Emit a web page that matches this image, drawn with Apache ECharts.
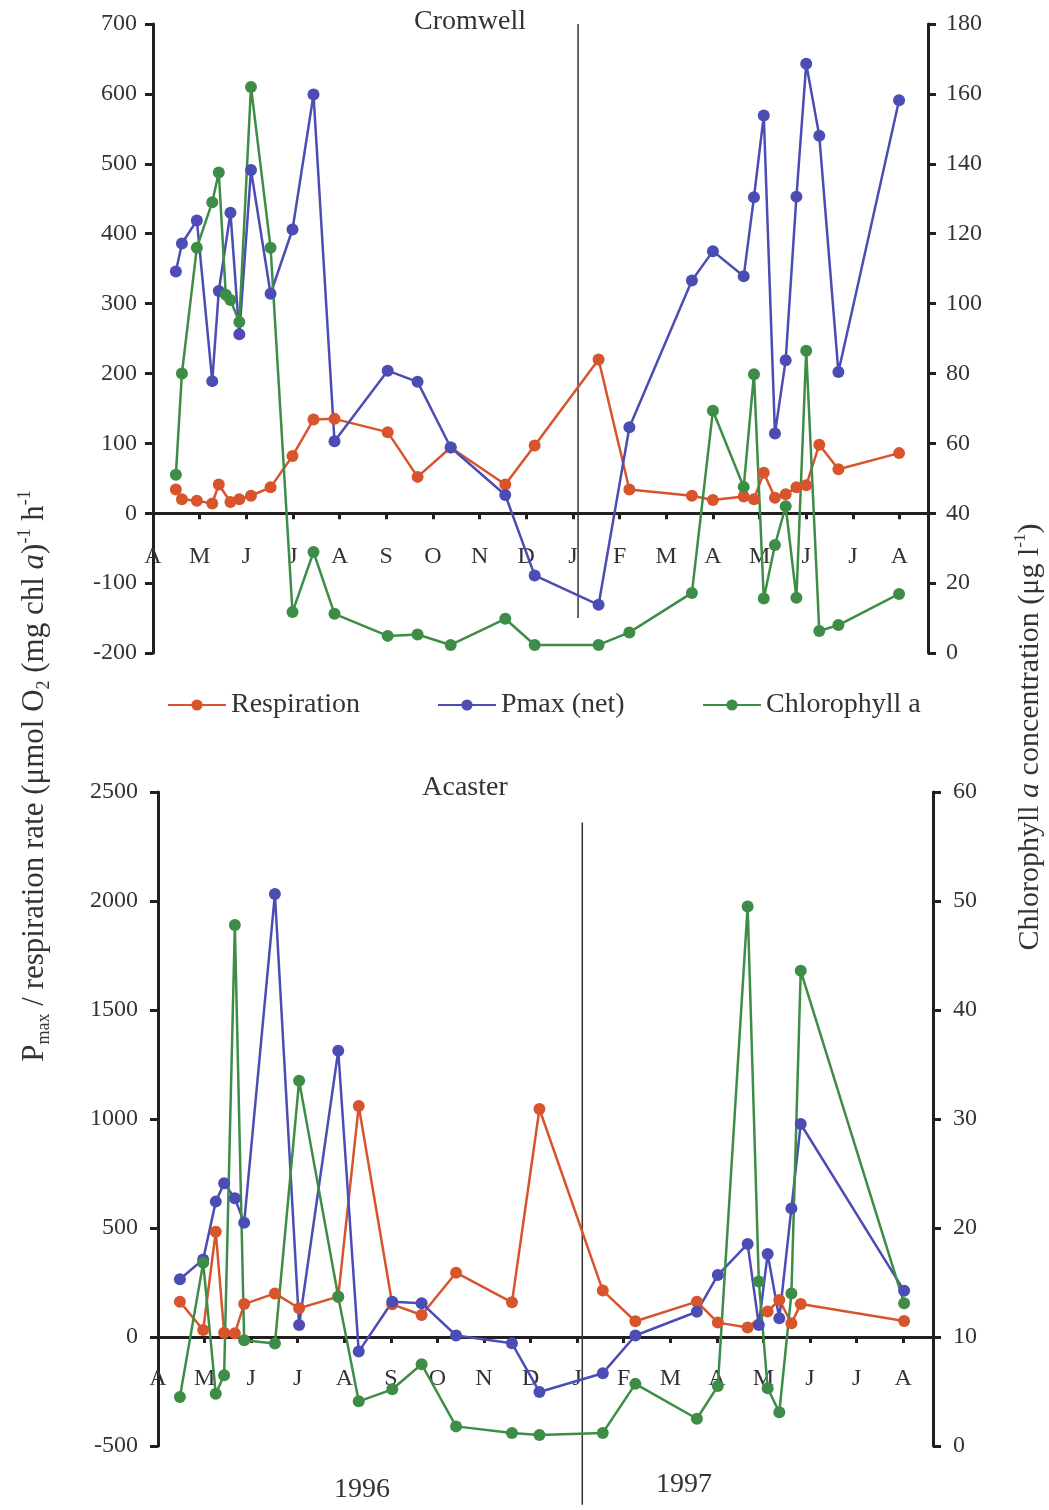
<!DOCTYPE html>
<html><head><meta charset="utf-8">
<script src="https://cdn.jsdelivr.net/npm/echarts@6/dist/echarts.min.js"></script>
<style>html,body{margin:0;padding:0;background:#fff}#c{width:1049px;height:1510px}</style>
</head><body><div id="c"></div>
<script>
const monthLabels = ['A','M','J','J','A','S','O','N','D','J','F','M','A','M','J','J','A'];

// Cromwell (top) — x in months since 1 April 1996
const topDates = [0.49,0.62,0.94,1.27,1.41,1.56,1.66,1.85,2.10,2.52,2.99,3.44,3.89,5.03,5.67,6.38,7.55,8.18,9.55,10.21,11.55,12.0,12.66,12.88,13.09,13.33,13.56,13.79,14.0,14.28,14.69,15.99];
const topResp  = [34,20,18,14,41,null,16,20,25,37,82,134,135,116,52,94,41,97,220,34,25,19,24,20,58,22,27,37,40,98,63,86];
const topPmax  = [346,386,419,189,318,null,430,256,491,314,406,599,103,204,188,94,26,-89,-131,123,333,375,339,452,569,114,219,453,643,540,202,591];
const topChl   = [51,80,116,129,137.5,102.5,101,94.7,162,116,11.7,28.9,11.2,4.9,5.3,2.3,9.8,2.3,2.3,5.9,17.2,69.3,47.5,79.8,15.6,30.9,42,15.8,86.5,6.3,8,16.9];

// Acaster (bottom)
const botDates = [0.47,0.97,1.24,1.42,1.65,1.85,2.51,3.03,3.87,4.31,5.03,5.66,6.40,7.60,8.19,9.55,10.25,11.57,12.02,12.66,12.90,13.09,13.34,13.60,13.80,16.02];
const botResp  = [162,32,483,20,17,151,200,132,185,1060,150,101,295,159,1046,213,72,162,66,44,null,117,170,63,151,73];
const botPmax  = [265,356,621,705,636,524,2032,55,1313,-67,162,155,7,-29,-252,-166,7,116,284,427,55,381,86,590,977,212];
const botChl   = [4.5,16.8,4.8,6.5,47.8,9.7,9.4,33.5,13.7,4.1,5.2,7.5,1.8,1.2,1.0,1.2,5.7,2.5,5.5,49.5,15.1,5.3,3.1,14,43.6,13.1];

const yearSplit = 9.11;

function pairs(d, v){ const out=[]; d.forEach((x,i)=>{ if(v[i]!=null) out.push([x,v[i]]); }); return out; }

const FONT = 'Liberation Serif';
const AX = '#231f20';
const TXT = '#333';
const RED = '#D8542C', BLUE = '#4B4CB4', GREEN = '#3D8D46';
const ticks = monthLabels.map((_,i)=>i);

function xAxis(gi, max, margin){
  return {type:'value', gridIndex:gi, min:0, max:max,
    axisLine:{show:true, onZero:true, lineStyle:{color:AX, width:3}},
    axisTick:{show:true, customValues:ticks, length:6, lineStyle:{color:AX, width:3}},
    axisLabel:{customValues:ticks, formatter:v=>monthLabels[Math.round(v)]||'', margin:margin,
      fontFamily:FONT, fontSize:24, color:TXT},
    splitLine:{show:false}};
}
function yAxis(gi, pos, min, max, interval, margin){
  return {type:'value', gridIndex:gi, position:pos, min, max, interval,
    axisLine:{show:true, onZero:false, lineStyle:{color:AX, width:3}},
    axisTick:{show:true, length:8, lineStyle:{color:AX, width:3}},
    axisLabel:{margin:margin, formatter:v=>String(v), fontFamily:FONT, fontSize:24, color:TXT},
    splitLine:{show:false}};
}
function line(name, xi, yi, data, color){
  return {name, type:'line', xAxisIndex:xi, yAxisIndex:yi, data, symbol:'circle', symbolSize:12,
    itemStyle:{color}, lineStyle:{color, width:2.5}, animation:false};
}

const chart = echarts.init(document.getElementById('c'), null, {renderer:'canvas'});
const legendText = {fontFamily:FONT, fontSize:28, color:TXT};
chart.setOption({
  backgroundColor:'#fff',
  animation:false,
  grid:[
    {left:153, right:121, top:24, height:629},
    {left:158, right:116, top:792, height:654}
  ],
  xAxis:[xAxis(0,16.61,-108), xAxis(1,16.64,-79)],
  yAxis:[
    yAxis(0,'left',-200,700,100,16),
    yAxis(0,'right',0,180,20,18),
    yAxis(1,'left',-500,2500,500,20),
    yAxis(1,'right',0,60,10,20)
  ],
  legend:[
    {data:['Respiration'], left:162, top:686, itemWidth:58, itemHeight:14, textStyle:legendText},
    {data:['Pmax (net)'], left:432, top:686, itemWidth:58, itemHeight:14, textStyle:legendText},
    {data:['Chlorophyll a'], left:697, top:686, itemWidth:58, itemHeight:14, textStyle:legendText}
  ],
  series:[
    line('Respiration',0,0,pairs(topDates,topResp),RED),
    line('Pmax (net)',0,0,pairs(topDates,topPmax),BLUE),
    line('Chlorophyll a',0,1,pairs(topDates,topChl),GREEN),
    line('Respiration',1,2,pairs(botDates,botResp),RED),
    line('Pmax (net)',1,2,pairs(botDates,botPmax),BLUE),
    line('Chlorophyll a',1,3,pairs(botDates,botChl),GREEN)
  ]
});

const t1 = chart.convertToPixel({xAxisIndex:0, yAxisIndex:0}, [yearSplit, 700]);
const t2 = chart.convertToPixel({xAxisIndex:0, yAxisIndex:0}, [yearSplit, -150]);
const b1 = chart.convertToPixel({xAxisIndex:1, yAxisIndex:2}, [yearSplit, 2360]);
const b2 = chart.convertToPixel({xAxisIndex:1, yAxisIndex:2}, [yearSplit, -770]);

const txt = {fontFamily:FONT, fontSize:28, fill:TXT};
function richSet(size){
  const n = {fontFamily:FONT, fontSize:size, lineHeight:size+6, fill:TXT};
  return {
    n:n,
    i:Object.assign({}, n, {fontStyle:'italic'}),
    s:{fontFamily:FONT, fontSize:Math.round(size*0.58), verticalAlign:'bottom', lineHeight:size+6, fill:TXT},
    p:{fontFamily:FONT, fontSize:Math.round(size*0.58), verticalAlign:'top', lineHeight:size+6, fill:TXT}
  };
}
chart.setOption({
  graphic:[
    {type:'line', shape:{x1:t1[0], y1:t1[1], x2:t2[0], y2:t2[1]}, style:{stroke:'#333', lineWidth:1.5}, z:1},
    {type:'line', shape:{x1:b1[0], y1:b1[1], x2:b2[0], y2:b2[1]}, style:{stroke:'#333', lineWidth:1.5}, z:1},
    {type:'text', x:470, y:22, style:Object.assign({text:'Cromwell', align:'center', verticalAlign:'middle'}, txt)},
    {type:'text', x:465, y:788, style:Object.assign({text:'Acaster', align:'center', verticalAlign:'middle'}, txt)},
    {type:'text', x:362, y:1490, style:Object.assign({text:'1996', align:'center', verticalAlign:'middle'}, txt)},
    {type:'text', x:684, y:1485, style:Object.assign({text:'1997', align:'center', verticalAlign:'middle'}, txt)},
    {type:'text', x:35, y:776, rotation:Math.PI/2,
      style:{text:'{n|P}{s|max}{n| / respiration rate (μmol O}{s|2}{n| (mg chl }{i|a}{n|)}{p|-1}{n| h}{p|-1}',
        align:'center', verticalAlign:'middle', fill:TXT, rich:richSet(31)}},
    {type:'text', x:1030, y:737, rotation:Math.PI/2,
      style:{text:'{n|Chlorophyll }{i|a}{n| concentration (μg l}{p|-1}{n|)}',
        align:'center', verticalAlign:'middle', fill:TXT, rich:richSet(30)}}
  ]
});
</script></body></html>
